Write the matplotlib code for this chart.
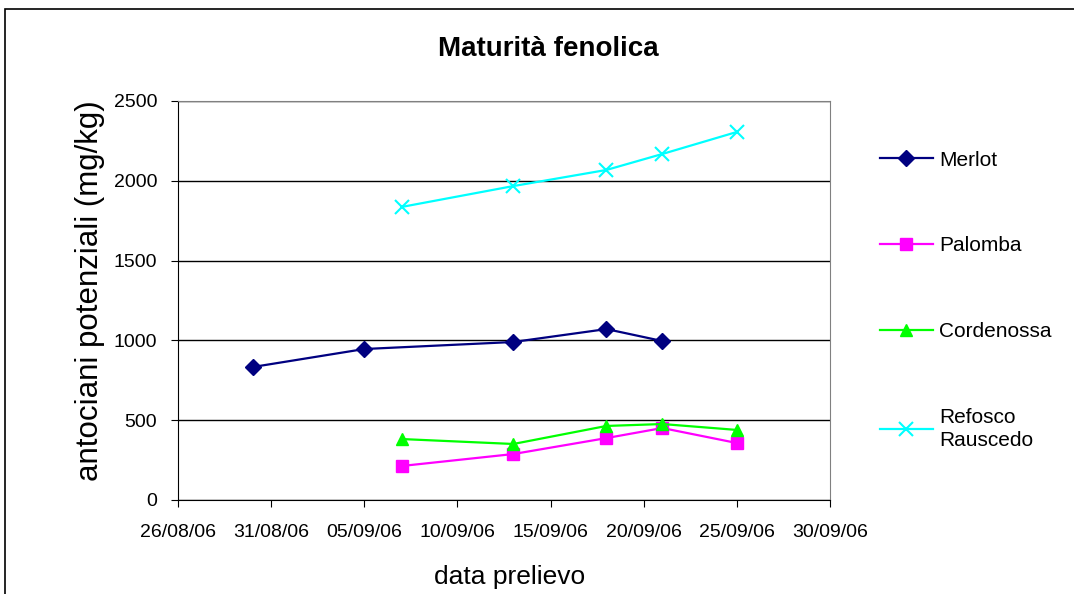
import matplotlib
matplotlib.use("Agg")
import matplotlib.pyplot as plt
from matplotlib.patches import Rectangle
from datetime import datetime

plt.rcParams['font.family'] = ['Liberation Sans', 'DejaVu Sans']

merlot_dates = ["30/08/06", "05/09/06", "13/09/06", "18/09/06", "21/09/06"]
merlot_vals = [833, 946, 990, 1071, 996]

palomba_dates = ["07/09/06", "13/09/06", "18/09/06", "21/09/06", "25/09/06"]
palomba_vals = [213, 288, 388, 451, 357]

cordenossa_dates = ["07/09/06", "13/09/06", "18/09/06", "21/09/06", "25/09/06"]
cordenossa_vals = [382, 351, 464, 476, 439]

refosco_dates = ["07/09/06", "13/09/06", "18/09/06", "21/09/06", "25/09/06"]
refosco_vals = [1836, 1967, 2068, 2168, 2306]

tick_labels = ["26/08/06", "31/08/06", "05/09/06", "10/09/06", "15/09/06",
               "20/09/06", "25/09/06", "30/09/06"]
y_ticks = [0, 500, 1000, 1500, 2000, 2500]


def parse(ds):
    return [datetime.strptime(d, "%d/%m/%y") for d in ds]


fig = plt.figure(figsize=(10.74, 5.94), dpi=100)
ax = fig.add_axes([178 / 1074, 94 / 594, 652 / 1074, 399 / 594])

series = [
    ("Merlot", merlot_dates, merlot_vals, "#000080", "D", 8, 1.6),
    ("Palomba", palomba_dates, palomba_vals, "#FF00FF", "s", 8, 1.6),
    ("Cordenossa", cordenossa_dates, cordenossa_vals, "#00FF00", "^", 9, 1.6),
    ("Refosco\nRauscedo", refosco_dates, refosco_vals, "#00FFFF", "x", 10, 1.6),
]
for name, ds, vs, col, mk, ms, lw in series:
    ax.plot(parse(ds), vs, color=col, marker=mk, markersize=ms, linewidth=lw,
            markeredgewidth=1.5 if mk == "x" else 1, label=name, clip_on=False)

xt = parse(tick_labels)
ax.set_xlim(xt[0], xt[-1])
ax.set_xticks(xt)
ax.set_xticklabels(tick_labels, fontsize=14)
ax.set_ylim(0, 2500)
ax.set_yticks(y_ticks)
ax.set_yticklabels([str(v) for v in y_ticks], fontsize=14)
ax.yaxis.grid(True, color="black", linewidth=1)
ax.set_axisbelow(True)
for s in ["top", "right"]:
    ax.spines[s].set_color("#808080")
for s in ["left", "bottom"]:
    ax.spines[s].set_color("black")
ax.tick_params(axis="y", direction="out", length=5, color="black", pad=10)
ax.tick_params(axis="x", direction="out", length=5, color="black", pad=12)

ax.set_xlabel("data prelievo", fontsize=19)
ax.set_ylabel("antociani potenziali (mg/kg)", fontsize=22.5)
ax.xaxis.set_label_coords(0.509, -0.163)
ax.yaxis.set_label_coords(-0.112, 0.526)
fig.text(548 / 1074, 1 - 49 / 594, "Maturità fenolica", fontsize=20,
         fontweight="bold", ha="center", va="center")

leg = fig.legend(loc="upper left", bbox_to_anchor=(861 / 1074, 1 - 132 / 594),
                 frameon=False, fontsize=15, labelspacing=3.2,
                 handlelength=2.55, handletextpad=0.3)
leg.get_texts()[3].set_linespacing(1.3)

fig.patches.append(Rectangle((5 / 1074, -0.05), 1.2, 1 - 9 / 594 + 0.05,
                             transform=fig.transFigure, fill=False,
                             edgecolor="black", linewidth=1.2))

fig.savefig("out.png", dpi=100)
